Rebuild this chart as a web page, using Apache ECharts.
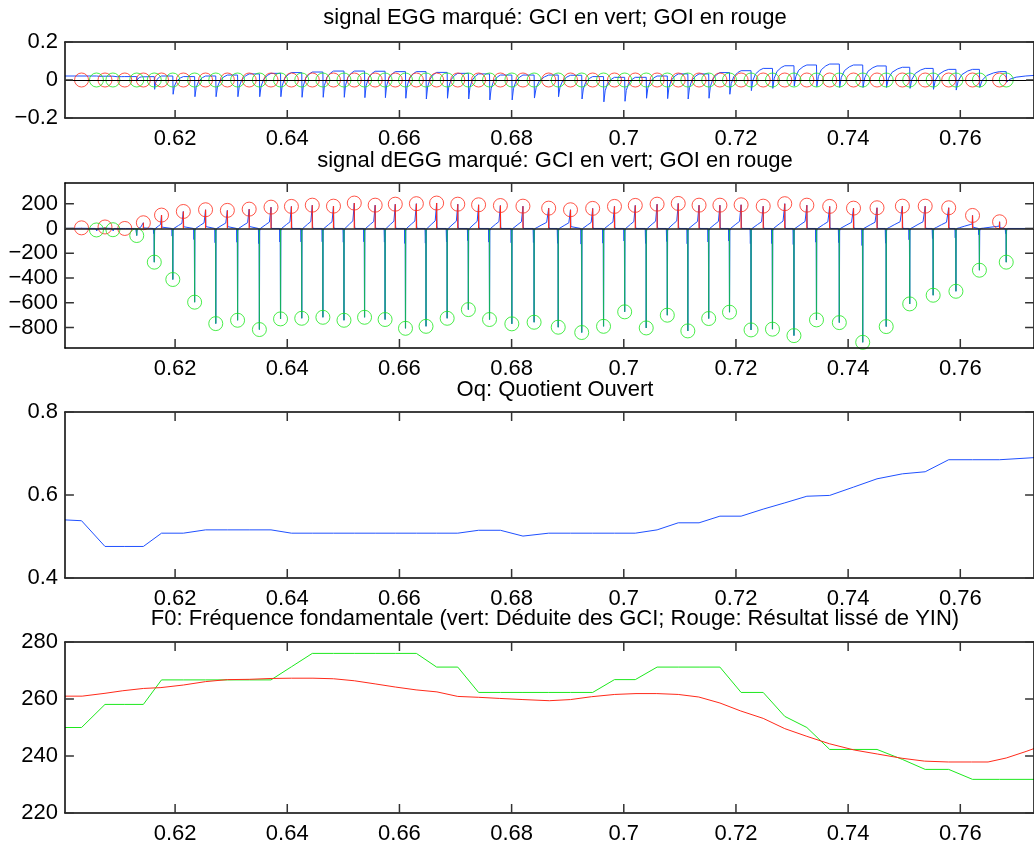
<!DOCTYPE html>
<html>
<head>
<meta charset="utf-8">
<title>EGG / dEGG / Oq / F0</title>
<script src="https://cdn.jsdelivr.net/npm/echarts@6/dist/echarts.min.js"></script>
<style>
  html, body { margin: 0; padding: 0; background: #fff; }
  #chart { width: 1034px; height: 848px; }
</style>
</head>
<body>
<div id="chart"></div>
<script>
// time axis (s)
const X_MIN = 0.60037
const X_MAX = 0.77314
const xTicks = [0.62, 0.64, 0.66, 0.68, 0.7, 0.72, 0.74, 0.76]

// tick labels of the four panels
const yTicksEgg = [-0.2, 0, 0.2]
const yTicksDegg = [-800, -600, -400, -200, 0, 200]
const yTicksOq = [0.4, 0.6, 0.8]
const yTicksF0 = [220, 240, 260, 280]

// GCI (closure instants, green) and dEGG value there
const gciTimes = [0.60598, 0.60891, 0.61316, 0.61629, 0.61959, 0.62348, 0.62725, 0.63114, 0.63503, 0.6388,
  0.64258, 0.64635, 0.65011, 0.65378, 0.65744, 0.66108, 0.66474, 0.66851, 0.67229, 0.67606,
  0.68004, 0.68401, 0.68831, 0.6925, 0.69639, 0.70016, 0.704, 0.70776, 0.71142, 0.71514,
  0.71885, 0.72269, 0.72651, 0.73034, 0.73436, 0.73843, 0.7426, 0.74679, 0.75098, 0.75516,
  0.75922, 0.76341, 0.76819]
const gciAmp = [-12, -10, -57, -272, -412, -595, -768, -741, -816, -730,
  -725, -717, -741, -717, -735, -806, -790, -725, -655, -735,
  -770, -757, -797, -840, -790, -673, -803, -700, -827, -727,
  -676, -819, -813, -865, -738, -760, -919, -792, -609, -539,
  -507, -337, -272]

// GOI (opening instants, red) and dEGG value there
const goiTimes = [0.60332, 0.6075, 0.61103, 0.61434, 0.61758, 0.62147, 0.62543, 0.62932, 0.63321, 0.6371,
  0.64074, 0.64446, 0.64824, 0.65195, 0.65567, 0.65926, 0.66302, 0.66663, 0.6704, 0.67411,
  0.678, 0.68202, 0.68661, 0.6905, 0.69445, 0.69834, 0.70205, 0.70594, 0.70971, 0.71342,
  0.71714, 0.72092, 0.72486, 0.7287, 0.73264, 0.73671, 0.74096, 0.74515, 0.74967, 0.75374,
  0.75793, 0.76218, 0.767]
const goiAmp = [5, 12, 0, 46, 108, 137, 151, 146, 156, 172,
  178, 188, 180, 205, 188, 196, 200, 205, 196, 191,
  185, 180, 164, 151, 162, 178, 186, 196, 202, 188,
  188, 191, 180, 200, 188, 178, 164, 167, 180, 180,
  167, 105, 54]

// EGG: flat top before each GCI, and minimum right after the drop
const eggTop = [0.021, 0.02, 0.018, 0.018, 0.021, 0.018, 0.021, 0.026, 0.032, 0.035,
  0.039, 0.042, 0.047, 0.047, 0.046, 0.044, 0.044, 0.04, 0.035, 0.032,
  0.026, 0.026, 0.026, 0.025, 0.018, 0.014, 0.014, 0.021, 0.032, 0.032,
  0.039, 0.049, 0.061, 0.075, 0.079, 0.084, 0.079, 0.074, 0.067, 0.061,
  0.056, 0.056, 0.044]
const eggMin = [0.017, 0.015, 0.0, -0.049, -0.075, -0.088, -0.088, -0.088, -0.088, -0.088,
  -0.091, -0.091, -0.091, -0.093, -0.093, -0.096, -0.1, -0.096, -0.1, -0.105,
  -0.105, -0.095, -0.088, -0.1, -0.115, -0.112, -0.096, -0.098, -0.1, -0.096,
  -0.075, -0.056, -0.044, -0.032, -0.035, -0.039, -0.039, -0.039, -0.044, -0.049,
  -0.053, -0.039, -0.012]
const eggEnd = 0.024
// shape of one EGG rise (fraction of closed phase, fraction of swing)
const eggRiseT = [0.12, 0.35, 0.7, 1]
const eggRiseV = [0.45, 0.75, 0.92, 1]
// shape of the dEGG ramp before a GOI peak
const dEggRampT = [0.15, 0.5, 0.85]
const dEggRampV = [0.05, 0.18, 0.3]
const SAMPLE = 0.00006

// Oq, one value per GOI plus the two ends
const oqStart = 0.54
const oqEnd = 0.69
const oqValues = [0.538, 0.476, 0.476, 0.476, 0.508, 0.508, 0.516, 0.516, 0.516, 0.516,
  0.508, 0.508, 0.508, 0.508, 0.508, 0.508, 0.508, 0.508, 0.508, 0.515,
  0.515, 0.501, 0.508, 0.508, 0.508, 0.508, 0.508, 0.516, 0.533, 0.533,
  0.549, 0.549, 0.566, 0.581, 0.597, 0.599, 0.619, 0.639, 0.651, 0.656,
  0.685, 0.685, 0.685]

// F0 from the GCI (green), one value per GOI plus the two ends
const f0GciStart = 250
const f0GciEnd = 231.8
const f0GciValues = [250, 258.1, 258.1, 258.1, 266.7, 266.7, 266.7, 266.7, 266.7, 266.7,
  271.3, 276, 276, 276, 276, 276, 276, 271.2, 271.2, 262.3,
  262.3, 262.3, 262.3, 262.3, 262.3, 266.8, 266.8, 271.2, 271.2, 271.2,
  271.2, 262.3, 262.3, 253.9, 250, 242.3, 242.3, 242.3, 238.8, 235.3,
  235.3, 231.8, 231.8]

// smoothed YIN F0 (red)
const f0YinTimes = [0.60037, 0.60343, 0.6075, 0.61068, 0.61434, 0.61747, 0.62147, 0.62543, 0.62932, 0.63321,
  0.6371, 0.64074, 0.64458, 0.64824, 0.65195, 0.65567, 0.65926, 0.66297, 0.66668, 0.6704,
  0.67406, 0.67788, 0.68202, 0.68672, 0.6905, 0.69422, 0.69839, 0.70218, 0.70589, 0.70971,
  0.71337, 0.71714, 0.72085, 0.72486, 0.7287, 0.73264, 0.73666, 0.74108, 0.7452, 0.74962,
  0.75363, 0.75788, 0.762, 0.76495, 0.76819, 0.77173, 0.77314]
const f0YinValues = [261.0, 261.0, 262.0, 262.9, 263.7, 264.0, 264.9, 266.1, 266.8, 266.9,
  267.2, 267.3, 267.3, 267.1, 266.4, 265.3, 264.2, 263.2, 262.5, 260.9,
  260.6, 260.2, 259.8, 259.4, 259.8, 260.8, 261.6, 261.9, 261.9, 261.6,
  260.7, 258.6, 255.8, 253.2, 249.6, 246.9, 244.3, 242.1, 240.7, 239.2,
  238.2, 237.9, 237.9, 237.9, 239.3, 241.6, 242.6]

const FONT = 'Liberation Sans, Arial, Helvetica, sans-serif'
const BLUE = '#1f50ff'
const RED = '#ff2a1a'
const GREEN = '#1de81d'

function buildEgg() {
  const pts = [[X_MIN, eggTop[0]]]
  for (let i = 0; i < gciTimes.length; i++) {
    if (i > 0) {
      const t0 = gciTimes[i - 1] + SAMPLE
      const d = goiTimes[i] - t0
      const lo = eggMin[i - 1]
      const hi = eggTop[i]
      eggRiseT.forEach((f, k) => pts.push([t0 + f * d, lo + eggRiseV[k] * (hi - lo)]))
    }
    pts.push([gciTimes[i], eggTop[i]])
    pts.push([gciTimes[i] + SAMPLE, eggMin[i]])
  }
  const last = gciTimes.length - 1
  const t0 = gciTimes[last] + SAMPLE
  const d = X_MAX - t0
  eggRiseT.forEach((f, k) => pts.push([t0 + f * d, eggMin[last] + eggRiseV[k] * (eggEnd - eggMin[last])]))
  return pts
}

function buildDegg() {
  const pts = [[X_MIN, 0]]
  for (let i = 0; i < goiTimes.length; i++) {
    const to = goiTimes[i]
    const tc = gciTimes[i]
    if (i > 0) {
      const prev = gciTimes[i - 1] + 3 * SAMPLE
      const d = to - prev
      dEggRampT.forEach((f, k) => pts.push([prev + f * d, dEggRampV[k] * goiAmp[i]]))
    }
    pts.push([to - SAMPLE, 0.35 * goiAmp[i]])
    pts.push([to, goiAmp[i]])
    pts.push([to + SAMPLE, 0.1 * goiAmp[i]])
    pts.push([to + 2 * SAMPLE, 0])
    pts.push([tc - 3 * SAMPLE, 0])
    pts.push([tc - 2 * SAMPLE, 0.15 * gciAmp[i]])
    pts.push([tc - SAMPLE, -10])
    pts.push([tc, gciAmp[i]])
    pts.push([tc + SAMPLE, -20])
    pts.push([tc + 3 * SAMPLE, 0])
  }
  pts.push([X_MAX, 0])
  return pts
}

function fmt(v) {
  return String(Math.round(v * 1000) / 1000).replace('-', '\u2212')
}

const lineStyleBox = { color: '#000', width: 1.5 }
const LABEL_SIZE = 22
const GRID_LEFT = 65
const GRID_WIDTH = 977

function xAxesFor(gi) {
  const base = {
    type: 'value', gridIndex: gi, min: X_MIN, max: X_MAX, z: 6,
    axisLine: { show: true, onZero: false, lineStyle: lineStyleBox }, splitLine: { show: false },
    axisTick: { show: false }
  }
  return [
    Object.assign({}, base, {
      position: 'bottom',
      axisLabel: { customValues: xTicks, formatter: fmt, color: '#000', fontSize: LABEL_SIZE, fontFamily: FONT, margin: 10 }
    }),
    Object.assign({}, base, { position: 'top', axisLabel: { show: false } })
  ]
}

function yAxesFor(gi, min, max, ticks) {
  const base = {
    type: 'value', gridIndex: gi, min: min, max: max, z: 6,
    axisLine: { show: true, onZero: false, lineStyle: lineStyleBox }, splitLine: { show: false },
    axisTick: { show: false }
  }
  return [
    Object.assign({}, base, {
      position: 'left',
      axisLabel: { customValues: ticks, formatter: fmt, color: '#000', fontSize: LABEL_SIZE, fontFamily: FONT, margin: 7 }
    }),
    Object.assign({}, base, { position: 'right', axisLabel: { show: false } })
  ]
}

function ring(color) {
  return { color: 'rgba(0,0,0,0)', borderColor: color, borderWidth: 1 }
}

function stems(xi, yi, times, amps, color) {
  return {
    type: 'custom', xAxisIndex: xi, yAxisIndex: yi, z: 3, silent: true,
    data: times.map((t, i) => [t, amps[i]]),
    renderItem: (params, api) => {
      const p0 = api.coord([api.value(0), 0])
      const p1 = api.coord([api.value(0), api.value(1)])
      return { type: 'line', shape: { x1: p0[0], y1: p0[1], x2: p1[0], y2: p1[1] }, style: { stroke: color, lineWidth: 1.2 } }
    }
  }
}

function lineSeries(xi, yi, data, color, z) {
  return {
    type: 'line', xAxisIndex: xi, yAxisIndex: yi, data: data, z: z || 2,
    showSymbol: false, symbol: 'none', sampling: null, silent: true,
    lineStyle: { color: color, width: 1 }
  }
}

const zeroLine = (color, width) => ({
  silent: true, symbol: 'none', label: { show: false }, animation: false,
  lineStyle: { color: color, width: width, type: 'solid' }, data: [{ yAxis: 0 }]
})

const oqTimes = [X_MIN].concat(goiTimes, [X_MAX])
const oqData = oqTimes.map((t, i) => [t, [oqStart].concat(oqValues, [oqEnd])[i]])
const f0GciData = oqTimes.map((t, i) => [t, [f0GciStart].concat(f0GciValues, [f0GciEnd])[i]])
const f0YinData = f0YinTimes.map((t, i) => [t, f0YinValues[i]])

const titleStyle = { fontSize: 22, fontWeight: 'normal', color: '#000', fontFamily: FONT, lineHeight: 22 }
const titles = [
  ['signal EGG marqué: GCI en vert; GOI en rouge', 7],
  ['signal dEGG marqué: GCI en vert; GOI en rouge', 150],
  ['Oq: Quotient Ouvert', 379],
  ['F0: Fréquence fondamentale (vert: Déduite des GCI; Rouge: Résultat lissé de YIN)', 608]
]

const panels = [
  { top: 42, height: 76, range: [-0.2, 0.2], ticks: yTicksEgg, len: 8 },
  { top: 183, height: 165, range: [-965, 367], ticks: yTicksDegg, len: 9 },
  { top: 412, height: 166, range: [0.4, 0.8], ticks: yTicksOq, len: 9 },
  { top: 642, height: 171, range: [220, 280], ticks: yTicksF0, len: 9 }
]

// inward tick marks as short line pieces in data units (broken by '-')
function tickSeries(gi) {
  const p = panels[gi]
  const dy = p.len * (p.range[1] - p.range[0]) / p.height
  const dx = p.len * (X_MAX - X_MIN) / GRID_WIDTH
  const data = []
  xTicks.forEach(v => {
    data.push([v, p.range[0]], [v, p.range[0] + dy], [v, '-'])
    data.push([v, p.range[1]], [v, p.range[1] - dy], [v, '-'])
  })
  p.ticks.forEach(v => {
    data.push([X_MIN, v], [X_MIN + dx, v], ['-', v])
    data.push([X_MAX, v], [X_MAX - dx, v], ['-', v])
  })
  return {
    type: 'line', xAxisIndex: gi * 2, yAxisIndex: gi * 2, data: data, z: 8,
    showSymbol: false, symbol: 'none', silent: true, connectNulls: false, clip: false,
    lineStyle: { color: '#333', width: 1.5 }
  }
}

const option = {
  animation: false,
  backgroundColor: '#fff',
  title: titles.map(([text, top]) => ({ text: text, left: 555, top: top, textAlign: 'center', padding: 0, textStyle: titleStyle })),
  grid: panels.map(p => ({ left: GRID_LEFT, width: GRID_WIDTH, top: p.top, height: p.height, show: false })),
  xAxis: [].concat(xAxesFor(0), xAxesFor(1), xAxesFor(2), xAxesFor(3)),
  yAxis: [].concat(panels.map((p, gi) => yAxesFor(gi, p.range[0], p.range[1], p.ticks)).flat()),
  series: [
    // panel 1: EGG
    lineSeries(0, 0, buildEgg(), BLUE, 2),
    { type: 'scatter', xAxisIndex: 0, yAxisIndex: 0, z: 4, silent: true, symbol: 'circle', symbolSize: 14,
      data: goiTimes.map(t => [t, 0]), itemStyle: ring(RED), markLine: zeroLine('#000', 1) },
    { type: 'scatter', xAxisIndex: 0, yAxisIndex: 0, z: 4, silent: true, symbol: 'circle', symbolSize: 14,
      data: gciTimes.map(t => [t, 0]), itemStyle: ring(GREEN) },
    // panel 2: dEGG
    lineSeries(2, 2, buildDegg(), BLUE, 2),
    stems(2, 2, goiTimes, goiAmp, RED),
    stems(2, 2, gciTimes, gciAmp, '#15b060'),
    { type: 'scatter', xAxisIndex: 2, yAxisIndex: 2, z: 4, silent: true, symbol: 'circle', symbolSize: 14,
      data: goiTimes.map((t, i) => [t, goiAmp[i]]), itemStyle: ring(RED), markLine: zeroLine('#222', 1.5) },
    { type: 'scatter', xAxisIndex: 2, yAxisIndex: 2, z: 4, silent: true, symbol: 'circle', symbolSize: 14,
      data: gciTimes.map((t, i) => [t, gciAmp[i]]), itemStyle: ring(GREEN) },
    // panel 3: Oq
    lineSeries(4, 4, oqData, BLUE, 2),
    // panel 4: F0
    lineSeries(6, 6, f0GciData, GREEN, 2),
    lineSeries(6, 6, f0YinData, RED, 3),
    // tick marks
    tickSeries(0), tickSeries(1), tickSeries(2), tickSeries(3)
  ]
}

const chart = echarts.init(document.getElementById('chart'))
chart.setOption(option)
</script>
</body>
</html>
